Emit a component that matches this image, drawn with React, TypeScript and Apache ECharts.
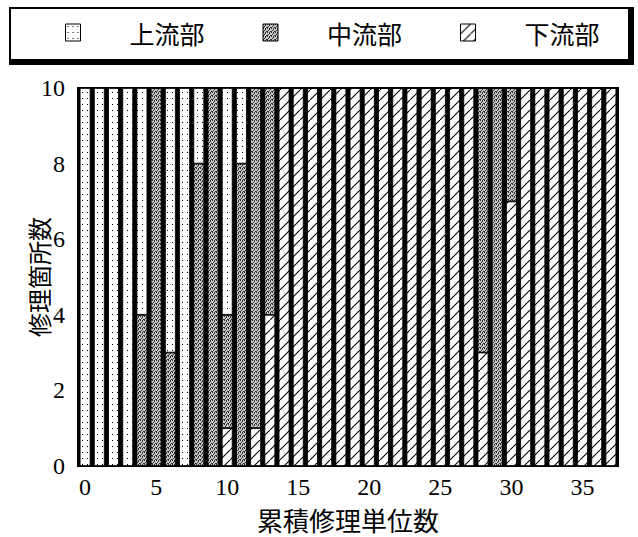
import React, { useEffect, useRef } from "react";
import * as echarts from "echarts";

const categories = ["0","1","2","3","4","5","6","7","8","9","10","11","12","13","14","15","16","17","18","19","20","21","22","23","24","25","26","27","28","29","30","31","32","33","34","35","36","37"];
const seriesNames = ["上流部", "中流部", "下流部"];
const upstream = [10,10,10,10,6,0,7,10,2,0,6,2,0,0,0,0,0,0,0,0,0,0,0,0,0,0,0,0,0,0,0,0,0,0,0,0,0,0];
const midstream = [0,0,0,0,4,10,3,0,8,10,3,8,9,6,0,0,0,0,0,0,0,0,0,0,0,0,0,0,7,10,3,0,0,0,0,0,0,0];
const downstream = [0,0,0,0,0,0,0,0,0,0,1,0,1,4,10,10,10,10,10,10,10,10,10,10,10,10,10,10,3,0,7,10,10,10,10,10,10,10];
const yTicks = [0, 2, 4, 6, 8, 10];
const xTitle = "累積修理単位数";
const yTitle = "修理箇所数";

function makePattern(kind: string) {
  const c = document.createElement("canvas");
  let w = 5, h = 6;
  if (kind === "hatch") { w = 10; h = 10; }
  if (kind === "gray") { w = 4; h = 4; }
  c.width = w; c.height = h;
  const ctx = c.getContext("2d")!;
  if (kind === "dots") {
    ctx.fillStyle = "#fff"; ctx.fillRect(0, 0, w, h);
    ctx.fillStyle = "#000"; ctx.fillRect(2, 2, 1, 1);
  } else if (kind === "gray") {
    ctx.fillStyle = "#c8c8c8"; ctx.fillRect(0, 0, w, h);
    ctx.fillStyle = "#303030";
    ctx.fillRect(0, 0, 1, 1); ctx.fillRect(2, 1, 1, 1); ctx.fillRect(1, 2, 1, 1); ctx.fillRect(3, 3, 1, 1);
    ctx.fillRect(2, 0, 1, 1); ctx.fillRect(0, 3, 1, 1);
  } else {
    ctx.fillStyle = "#fff"; ctx.fillRect(0, 0, w, h);
    ctx.strokeStyle = "#000"; ctx.lineWidth = 1.1;
    ctx.beginPath();
    ctx.moveTo(-1, h + 1); ctx.lineTo(w + 1, -1);
    ctx.stroke();
  }
  return { image: c.toDataURL(), repeat: "repeat", imageWidth: w, imageHeight: h } as any;
}

export default function App() {
  const ref = useRef<HTMLDivElement>(null);
  useEffect(() => {
    const chart = echarts.init(ref.current!, null, { renderer: "svg" });
    const pDots = makePattern("dots");
    const pGray = makePattern("gray");
    const pHatch = makePattern("hatch");
    const serif = "Liberation Serif";
    const cjk = "Noto Sans CJK JP";
    const mkSeries = (name: string, data: number[], color: any) => ({
      name, type: "bar", stack: "total", data,
      barCategoryGap: "24%",
      itemStyle: { color, borderColor: "#000", borderWidth: 0.8 },
      emphasis: { disabled: true },
    });
    const yAxisBase = {
      type: "value", min: 0, max: 10, interval: 2,
      axisLine: { show: true, lineStyle: { color: "#000", width: 2 } },
      axisTick: { show: true, inside: true, length: 8, lineStyle: { color: "#000", width: 2 } },
      minorTick: { show: true, splitNumber: 5, length: 5, lineStyle: { color: "#000", width: 1.5 } },
      splitLine: { show: false },
    };
    chart.setOption({
      animation: false,
      backgroundColor: "#fff",
      graphic: {
        elements: [
          { type: "rect", z: 0, shape: { x: 9, y: 7, width: 625, height: 58 }, style: { fill: "#000" } },
          { type: "rect", z: 1, shape: { x: 11, y: 9, width: 617, height: 50 }, style: { fill: "#fff" } },
        ],
      },
      legend: {
        z: 10,
        data: seriesNames,
        left: 60, top: 15,
        itemWidth: 15, itemHeight: 17, itemGap: 58,
        icon: "rect",
        itemStyle: { borderColor: "#000", borderWidth: 1 },
        textStyle: { fontFamily: cjk, fontSize: 25, color: "#000", padding: [0, 0, 0, 44] },
      },
      grid: {
        left: 78, right: 20, top: 88, bottom: 71,
        show: true, backgroundColor: "#000", borderColor: "#000", borderWidth: 2,
      },
      xAxis: {
        type: "category", data: categories,
        name: xTitle, nameLocation: "middle", nameGap: 40, nameMoveOverlap: false,
        nameTextStyle: { fontFamily: cjk, fontSize: 26, color: "#000" },
        axisLine: { show: true, lineStyle: { color: "#000", width: 2 } },
        axisTick: { show: true, inside: true, alignWithLabel: true, interval: 0, length: 6, lineStyle: { color: "#000", width: 1.5 } },
        axisLabel: { interval: 4, fontFamily: serif, fontSize: 24, color: "#000", margin: 9 },
      },
      yAxis: [
        {
          ...yAxisBase,
          name: yTitle, nameLocation: "middle", nameGap: 28, nameMoveOverlap: false,
          nameTextStyle: { fontFamily: cjk, fontSize: 24, color: "#000" },
          axisLabel: { fontFamily: serif, fontSize: 24, color: "#000", margin: 13,
            formatter: (v: number) => (yTicks.includes(v) ? String(v) : "") },
        },
        { ...yAxisBase, position: "right", axisLabel: { show: false } },
      ],
      series: [
        mkSeries(seriesNames[2], downstream, pHatch),
        mkSeries(seriesNames[1], midstream, pGray),
        mkSeries(seriesNames[0], upstream, pDots),
      ],
    });
    return () => chart.dispose();
  }, []);
  return <div ref={ref} style={{ position: "fixed", left: 0, top: 0, width: 638, height: 537 }} />;
}
